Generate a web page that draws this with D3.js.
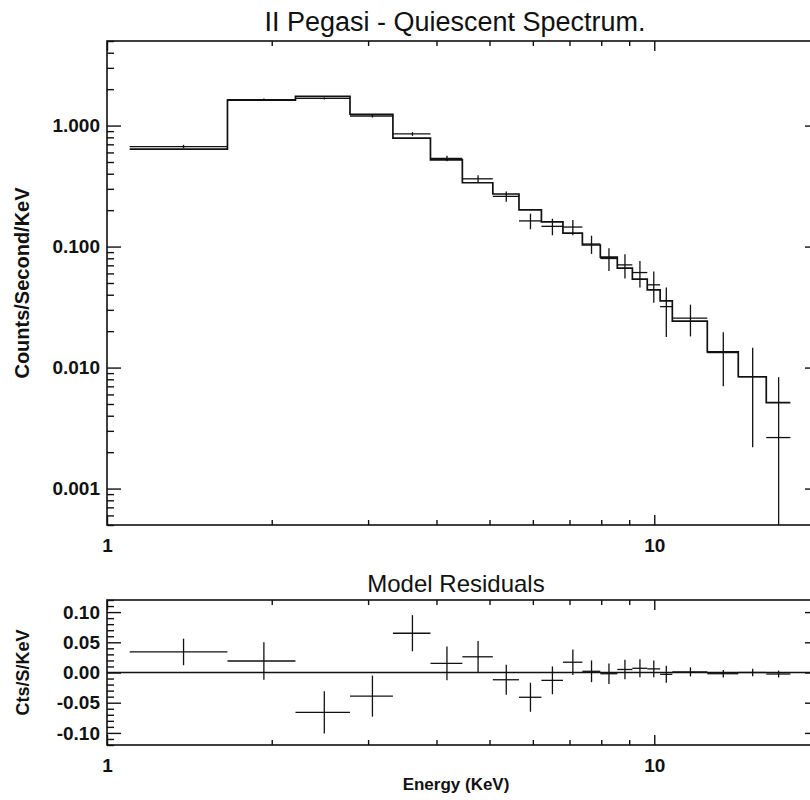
<!DOCTYPE html>
<html>
<head>
<meta charset="utf-8">
<script src="https://cdn.jsdelivr.net/npm/d3@7/dist/d3.min.js"></script>
<style>
  body { margin: 0; background: #fff; }
  svg { display: block; }
  text { font-family: "Liberation Sans", Arial, Helvetica, sans-serif; fill: #111; }
</style>
</head>
<body>
<div id="chart"></div>
<script>
// energy bins (KeV)
var binLo = [1.10, 1.66, 2.21, 2.78, 3.33, 3.90, 4.46, 5.07, 5.66, 6.22, 6.81,
             7.39, 7.97, 8.56, 9.12, 9.71, 10.25, 10.79, 12.50, 14.24, 16.02];
var binHi = [1.66, 2.21, 2.78, 3.33, 3.90, 4.46, 5.07, 5.66, 6.22, 6.81, 7.39,
             7.97, 8.56, 9.12, 9.71, 10.25, 10.79, 12.50, 14.24, 16.02, 17.73];

// model counts/s/KeV (histogram)
var model = [0.638, 1.62, 1.74, 1.24, 0.787, 0.520, 0.337, 0.272, 0.201, 0.160, 0.129,
             0.103, 0.0817, 0.0663, 0.0538, 0.0439, 0.0356, 0.0242, 0.0135, 0.0084, 0.00514];

// observed counts/s/KeV and 1-sigma errors
var counts = [0.671, 1.64, 1.675, 1.20, 0.853, 0.535, 0.363, 0.260, 0.163, 0.147, 0.145,
              0.105, 0.0797, 0.0706, 0.0610, 0.0483, 0.0319, 0.0256, 0.0133, 0.0084, 0.00264];
var errors = [0.022, 0.031, 0.035, 0.034, 0.030, 0.028, 0.026, 0.025, 0.024, 0.023, 0.021,
              0.018, 0.017, 0.016, 0.015, 0.014, 0.014, 0.0075, 0.0063, 0.0062, 0.0057];

// data - model
var residuals = [0.034, 0.019, -0.066, -0.039, 0.065, 0.015, 0.026, -0.012, -0.041, -0.013, 0.017,
                 0.002, -0.002, 0.005, 0.007, 0.006, -0.003, 0.001, -0.002, 0.000, -0.0025];

var yTickVals = [0.001, 0.01, 0.1, 1];
var xTickVals = [1, 10];
var resTickVals = [-0.10, -0.05, 0.00, 0.05, 0.10];

var W = 810, H = 800;
var left = 107, right = 819;
var top1 = 41, bot1 = 525;
var top2 = 600, bot2 = 745;

var svg = d3.select('#chart').append('svg')
    .attr('width', W)
    .attr('height', H);

var x = d3.scaleLog().domain([1, 20]).range([left, right]);
var y = d3.scaleLog().domain([0.0005, 5]).range([bot1, top1]);
var yr = d3.scaleLinear().domain([-0.12, 0.12]).range([bot2, top2]);

var bins = binLo.map(function(lo, i) {
    return { lo: lo, hi: binHi[i], mid: (lo + binHi[i]) / 2, m: model[i], c: counts[i], e: errors[i], r: residuals[i] };
});

var xMinor = x.ticks().filter(function(d) { return xTickVals.indexOf(d) < 0; });
var yMinor = y.ticks().filter(function(d) { return yTickVals.indexOf(d) < 0; });
var resMinor = d3.range(-12, 13).map(function(i) { return i / 100; })
    .filter(function(d) { return Math.abs(Math.round(d * 100)) % 5 != 0; });

function noDomain(g) { g.select('.domain').remove(); }

// draws a framed panel with inward ticks on all four sides
function frame(ys, yTop, yBot, yMajors, yMinors, yFmt, xTickLen) {
    var g = svg.append('g');

    g.append('g').attr('transform', 'translate(0,' + yBot + ')')
        .call(d3.axisBottom(x).tickValues(xTickVals).tickSize(-xTickLen).tickPadding(14).tickFormat(d3.format('d')))
        .call(noDomain);
    g.append('g').attr('transform', 'translate(0,' + yBot + ')')
        .call(d3.axisBottom(x).tickValues(xMinor).tickSize(-xTickLen / 2).tickFormat(''))
        .call(noDomain);
    g.append('g').attr('transform', 'translate(0,' + yTop + ')')
        .call(d3.axisTop(x).tickValues(xTickVals).tickSize(-xTickLen).tickFormat(''))
        .call(noDomain);
    g.append('g').attr('transform', 'translate(0,' + yTop + ')')
        .call(d3.axisTop(x).tickValues(xMinor).tickSize(-xTickLen / 2).tickFormat(''))
        .call(noDomain);

    g.append('g').attr('transform', 'translate(' + left + ',0)')
        .call(d3.axisLeft(ys).tickValues(yMajors).tickSize(-14).tickPadding(7).tickFormat(yFmt))
        .call(noDomain);
    g.append('g').attr('transform', 'translate(' + left + ',0)')
        .call(d3.axisLeft(ys).tickValues(yMinors).tickSize(-7).tickFormat(''))
        .call(noDomain);
    g.append('g').attr('transform', 'translate(' + right + ',0)')
        .call(d3.axisRight(ys).tickValues(yMajors).tickSize(-14).tickFormat(''))
        .call(noDomain);
    g.append('g').attr('transform', 'translate(' + right + ',0)')
        .call(d3.axisRight(ys).tickValues(yMinors).tickSize(-7).tickFormat(''))
        .call(noDomain);

    g.selectAll('.tick line').attr('stroke', '#111').attr('stroke-width', 1.4);
    g.selectAll('.tick text')
        .attr('font-size', 19)
        .attr('font-weight', 'bold')
        .attr('font-family', '"Liberation Sans", Arial, sans-serif')
        .attr('fill', '#111');

    g.append('rect')
        .attr('x', left).attr('y', yTop)
        .attr('width', right - left).attr('height', yBot - yTop)
        .attr('fill', 'none').attr('stroke', '#111').attr('stroke-width', 1.6);
    return g;
}

svg.append('clipPath').attr('id', 'clip1')
    .append('rect').attr('x', left).attr('y', top1).attr('width', right - left).attr('height', bot1 - top1);
svg.append('clipPath').attr('id', 'clip2')
    .append('rect').attr('x', left).attr('y', top2).attr('width', right - left).attr('height', bot2 - top2);

// ---- spectrum panel ----
frame(y, top1, bot1, yTickVals, yMinor, d3.format('.3f'), 10);

var plot1 = svg.append('g').attr('clip-path', 'url(#clip1)');

var stepPts = bins.map(function(d) { return [d.lo, d.m]; });
stepPts.push([binHi[binHi.length - 1], model[model.length - 1]]);

plot1.append('path')
    .datum(stepPts)
    .attr('fill', 'none')
    .attr('stroke', '#111')
    .attr('stroke-width', 1.7)
    .attr('d', d3.line()
        .x(function(d) { return x(d[0]); })
        .y(function(d) { return y(d[1]); })
        .curve(d3.curveStepAfter));

var cross1 = plot1.selectAll('.pt').data(bins).enter().append('g').attr('class', 'pt');
cross1.append('line')
    .attr('x1', function(d) { return x(d.lo); })
    .attr('x2', function(d) { return x(d.hi); })
    .attr('y1', function(d) { return y(d.c); })
    .attr('y2', function(d) { return y(d.c); });
cross1.append('line')
    .attr('x1', function(d) { return x(d.mid); })
    .attr('x2', function(d) { return x(d.mid); })
    .attr('y1', function(d) { return y(d.c + d.e); })
    .attr('y2', function(d) { return d.c - d.e > 0 ? y(d.c - d.e) : bot1 + 5; });
cross1.selectAll('line').attr('stroke', '#111').attr('stroke-width', 1.3);

// ---- residual panel ----
frame(yr, top2, bot2, resTickVals, resMinor, function(d) { return d.toFixed(2); }, 10);

var plot2 = svg.append('g').attr('clip-path', 'url(#clip2)');

plot2.append('line')
    .attr('x1', left).attr('x2', right)
    .attr('y1', yr(0)).attr('y2', yr(0))
    .attr('stroke', '#111').attr('stroke-width', 1.3);

var cross2 = plot2.selectAll('.rp').data(bins).enter().append('g').attr('class', 'rp');
cross2.append('line')
    .attr('x1', function(d) { return x(d.lo); })
    .attr('x2', function(d) { return x(d.hi); })
    .attr('y1', function(d) { return yr(d.r); })
    .attr('y2', function(d) { return yr(d.r); });
cross2.append('line')
    .attr('x1', function(d) { return x(d.mid); })
    .attr('x2', function(d) { return x(d.mid); })
    .attr('y1', function(d) { return yr(d.r + d.e); })
    .attr('y2', function(d) { return yr(d.r - d.e); });
cross2.selectAll('line').attr('stroke', '#111').attr('stroke-width', 1.3);

// ---- titles ----
svg.append('text')
    .attr('x', 455).attr('y', 31)
    .attr('text-anchor', 'middle')
    .attr('font-size', 27)
    .text('II Pegasi - Quiescent Spectrum.');

svg.append('text')
    .attr('x', 456).attr('y', 592)
    .attr('text-anchor', 'middle')
    .attr('font-size', 24)
    .text('Model Residuals');

svg.append('text')
    .attr('transform', 'translate(29,' + ((top1 + bot1) / 2) + ') rotate(-90)')
    .attr('text-anchor', 'middle')
    .attr('font-size', 20)
    .attr('font-weight', 'bold')
    .text('Counts/Second/KeV');

svg.append('text')
    .attr('transform', 'translate(29,' + ((top2 + bot2) / 2) + ') rotate(-90)')
    .attr('text-anchor', 'middle')
    .attr('font-size', 18)
    .attr('font-weight', 'bold')
    .text('Cts/S/KeV');

svg.append('text')
    .attr('x', 456).attr('y', 790)
    .attr('text-anchor', 'middle')
    .attr('font-size', 17)
    .attr('font-weight', 'bold')
    .text('Energy (KeV)');
</script>
</body>
</html>
